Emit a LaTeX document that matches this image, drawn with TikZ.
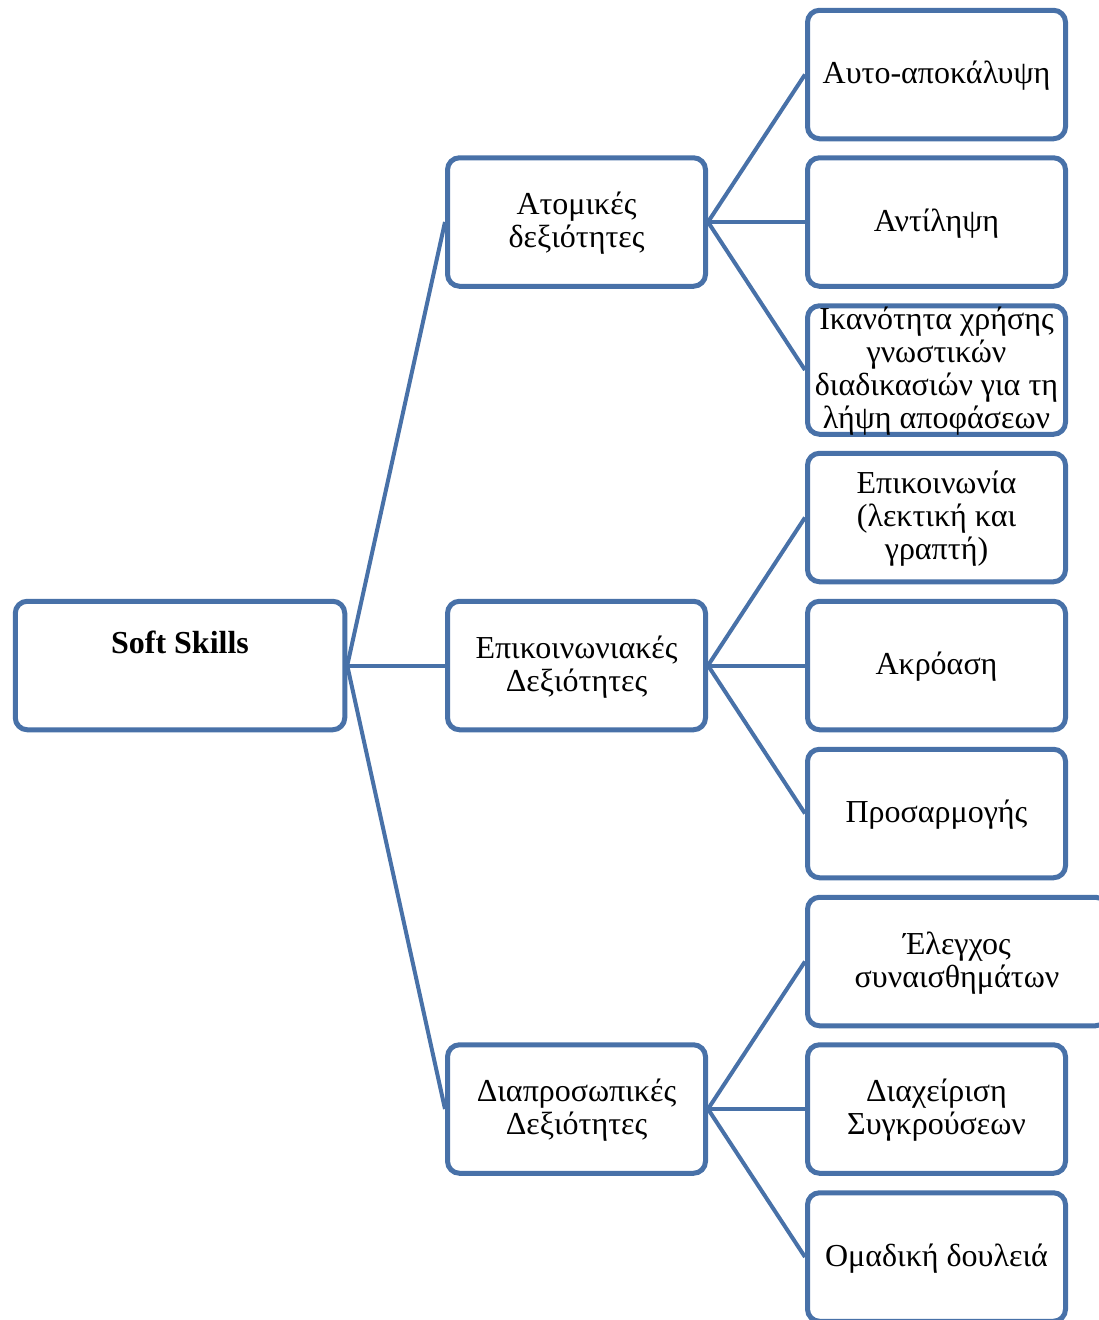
\documentclass[tikz,border=0pt]{standalone}
\usepackage{fontspec}
\setmainfont{Liberation Serif}
\definecolor{boxblue}{RGB}{72,113,168}
\begin{document}
\begin{tikzpicture}[x=1pt,y=-1pt,
  box/.style={draw=boxblue, line width=5pt, rounded corners=12pt,
    minimum width=258pt, minimum height=128.5pt, inner sep=0pt, fill=white},
  txt/.style={font=\fontsize{32}{33}\selectfont, align=center, inner sep=0pt},
  link/.style={draw=boxblue, line width=4pt}]
\useasboundingbox (0,0) rectangle (1099,1320);
\clip (0,0) rectangle (1099,1320);

% root
\node[box, minimum width=329.5pt] (root) at (180,665.5) {};
\node[txt, font=\fontsize{32}{33}\selectfont\bfseries] (roott) at (180,642) {Soft Skills};

% second level
\node[box] (a) at (576.5,222) {};
\node[box] (b) at (576.5,665.5) {};
\node[box] (c) at (576.5,1109) {};
\node[txt] (at) at (576.5,223.5) {Ατομικές\\δεξιότητες};
\node[txt] (bt) at (576.5,667) {Επικοινωνιακές\\Δεξιότητες};
\node[txt] (ct) at (576.5,1110.5) {Διαπροσωπικές\\Δεξιότητες};

% third level
\node[box] (a1) at (936.5,74.5) {};
\node[box] (a2) at (936.5,222) {};
\node[box] (a3) at (936.5,370) {};
\node[box] (b1) at (936.5,517.5) {};
\node[box] (b2) at (936.5,665.5) {};
\node[box] (b3) at (936.5,813.5) {};
\node[box, minimum width=300pt] (c1) at (957.5,961.5) {};
\node[box] (c2) at (936.5,1109) {};
\node[box] (c3) at (936.5,1257) {};

\node[txt] (a1t) at (936.5,76) {Αυτο-αποκάλυψη};
\node[txt] (a2t) at (936.5,223.5) {Αντίληψη};
\node[txt] (a3t) at (936.5,371.5) {Ικανότητα χρήσης\\γνωστικών\\διαδικασιών για τη\\λήψη αποφάσεων};
\node[txt] (b1t) at (936.5,519) {Επικοινωνία\\(λεκτική και\\γραπτή)};
\node[txt] (b2t) at (936.5,667) {Ακρόαση};
\node[txt] (b3t) at (936.5,815) {Προσαρμογής};
\node[txt] (c1t) at (957,963) {Έλεγχος\\συναισθημάτων};
\node[txt] (c2t) at (936.5,1110.5) {Διαχείριση\\Συγκρούσεων};
\node[txt] (c3t) at (936.5,1258.5) {Ομαδική δουλειά};

% connectors
\foreach \s/\t in {root/a, root/b, root/c, a/a1, a/a2, a/a3, b/b1, b/b2, b/b3, c/c1, c/c2, c/c3}
  \draw[link] (\s.east) -- (\t.west);
\end{tikzpicture}
\end{document}
